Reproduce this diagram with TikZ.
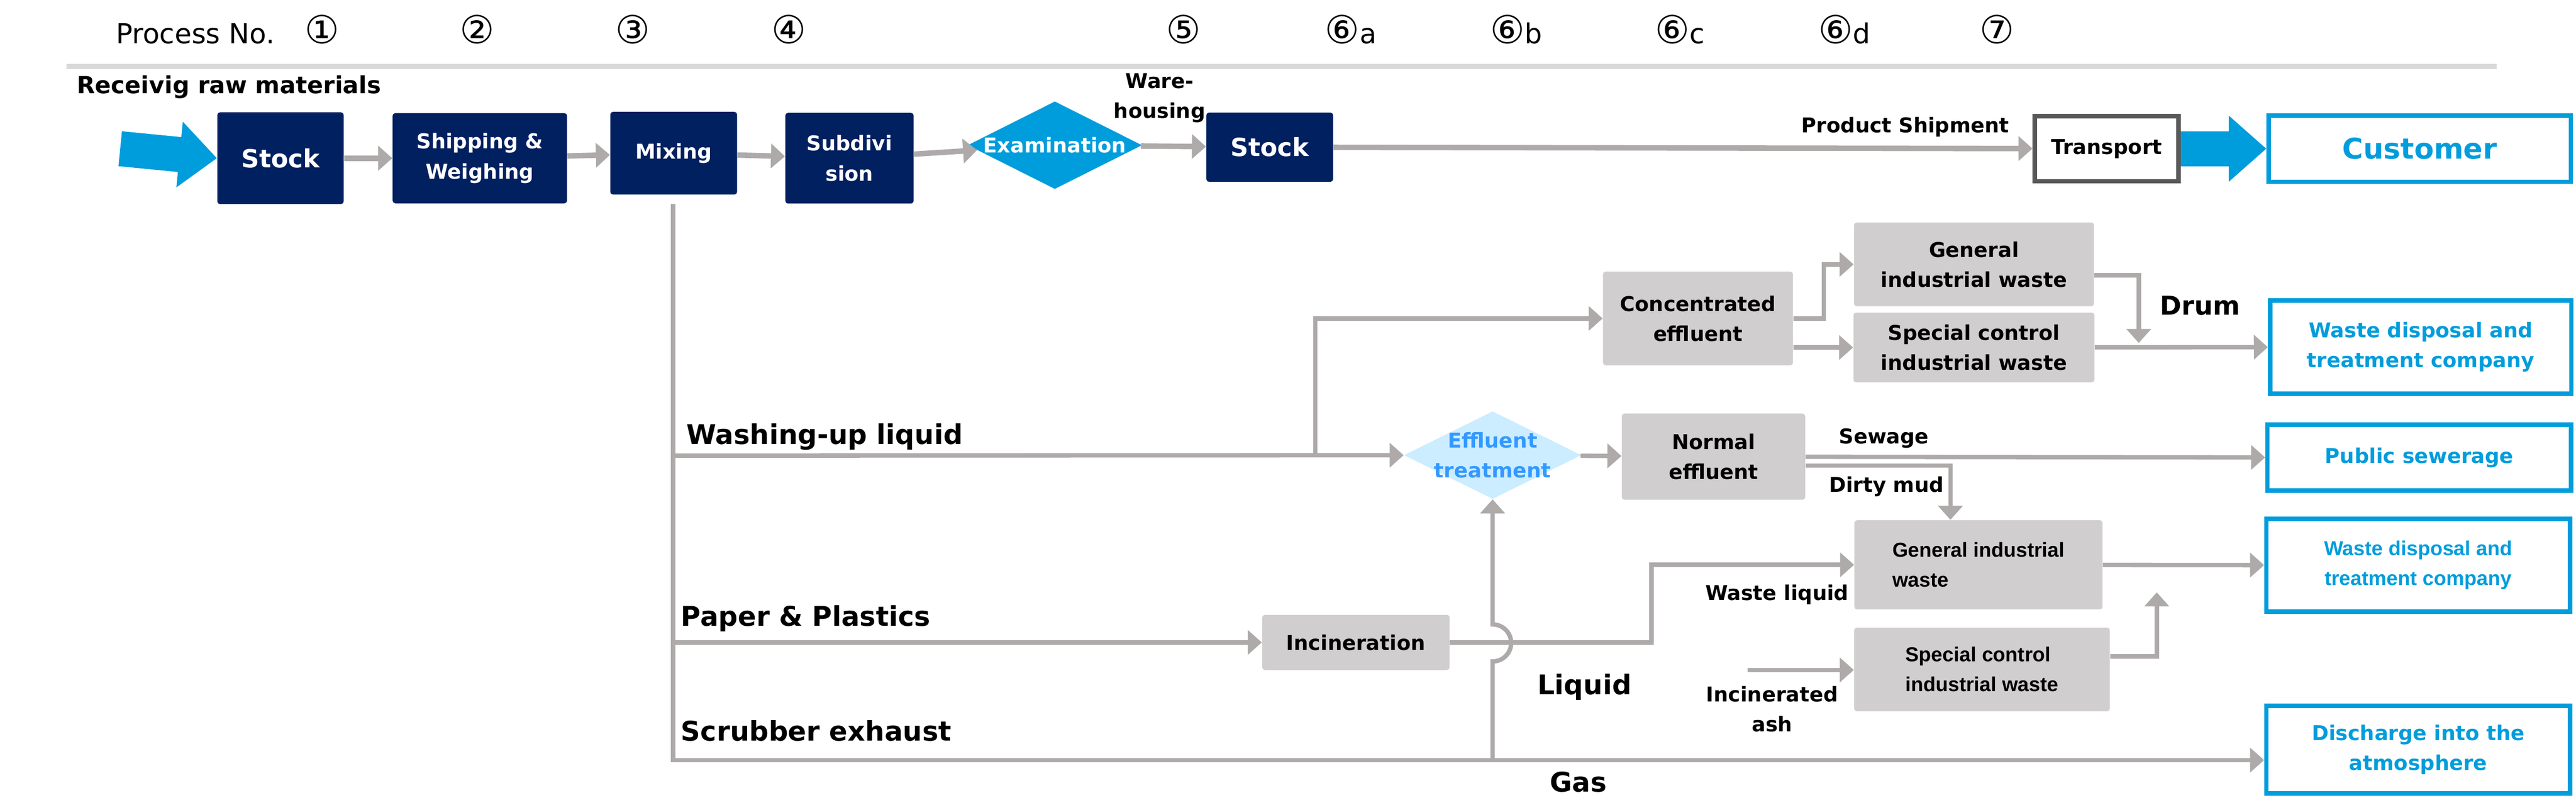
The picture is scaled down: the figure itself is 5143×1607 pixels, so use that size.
\documentclass[tikz,border=0pt]{standalone}
\usepackage{fontspec}
\setmainfont{DejaVu Sans}
\newfontfamily\arialfont{Liberation Sans}
\usetikzlibrary{positioning,shapes.geometric,arrows.meta}

\definecolor{navy}{HTML}{002060}
\definecolor{flowgray}{HTML}{AEAAAA}
\definecolor{boxgray}{HTML}{D0CECE}
\definecolor{bargray}{HTML}{D9D9D9}
\definecolor{skyblue}{HTML}{009DDC}
\definecolor{paleblue}{HTML}{CCECFF}
\definecolor{effblue}{HTML}{3399FF}
\definecolor{framegray}{HTML}{595959}

\newcommand{\boxtxt}{\bfseries\fontsize{11.6}{17}\selectfont}
\newcommand{\bigtxt}{\bfseries\fontsize{15.4}{20}\selectfont}
\newcommand{\arialtxt}{\arialfont\bfseries\fontsize{11.5}{17}\selectfont}
\newcommand{\numtxt}{\fontsize{15.6}{18}\selectfont}

\tikzset{
  navybox/.style={rectangle, rounded corners=1.5pt, fill=navy, text=white, font=\boxtxt, align=center, inner sep=0pt},
  graybox/.style={rectangle, rounded corners=1.5pt, fill=boxgray, font=\boxtxt, align=center, inner sep=0pt},
  outbox/.style={rectangle, draw=skyblue, line width=2.56pt, fill=white, text=skyblue, font=\boxtxt, align=center, inner sep=0pt},
  procno/.style={font=\fontsize{22}{24}\selectfont, anchor=base, inner sep=0pt},
  lbl/.style={font=\boxtxt, align=center, inner sep=0pt},
  biglbl/.style={font=\bigtxt, anchor=base west, inner sep=0pt},
  flow/.style={draw=flowgray, line width=2.5pt, -{Triangle[length=0.28cm,width=0.48cm]}},
  topflow/.style={flow, line width=3.1pt},
  bigflow/.style={draw=skyblue, line width=0.7cm, -{Triangle[length=0.75cm,width=1.27cm]}}
}

\begin{document}
\begin{tikzpicture}[x=0.01cm, y=-0.01cm]
  \useasboundingbox (0,0) rectangle (5143,1607);

  % Process numbers
  \node[procno, font=\numtxt] (pno) at (390,87) {Process No.};
  \node[procno] (p1) at (643,87) {①};
  \node[procno] (p2) at (953,87) {②};
  \node[procno] (p3) at (1263,87) {③};
  \node[procno] (p4) at (1575,87) {④};
  \node[procno] (p5) at (2363,87) {⑤};
  \node[procno] (p6a) at (2697,87) {⑥{\numtxt a}};
  \node[procno] (p6b) at (3027,87) {⑥{\numtxt b}};
  \node[procno] (p6c) at (3354,87) {⑥{\numtxt c}};
  \node[procno] (p6d) at (3682,87) {⑥{\numtxt d}};
  \node[procno] (p7) at (3987,87) {⑦};
  \draw[bargray, line width=2.85pt] (133,133) -- (4985,133);

  % Nodes
  \node[lbl, font=\bfseries\fontsize{13.4}{17}\selectfont, anchor=base west] (raw) at (153,187) {Receivig raw materials};
  \node[navybox, minimum width=2.52cm, minimum height=1.83cm, font=\bfseries\fontsize{14.2}{17}\selectfont] (stockA) at (560,316) {Stock};
  \node[navybox, minimum width=3.48cm, minimum height=1.80cm] (ship) at (958,316) {Shipping \&\\Weighing};
  \node[navybox, minimum width=2.53cm, minimum height=1.65cm] (mix) at (1345,306) {Mixing};
  \node[navybox, minimum width=2.56cm, minimum height=1.81cm] (subdiv) at (1696,316) {Subdivi\\sion};
  \node[diamond, fill=skyblue, inner sep=0pt, minimum width=3.48cm, minimum height=1.75cm,
        label={[text=white, font=\boxtxt]center:Examination}] (exam) at (2106,290) {};
  \node[lbl] (ware) at (2315,196) {Ware-\\housing};
  \node[navybox, minimum width=2.53cm, minimum height=1.38cm, font=\bfseries\fontsize{14.2}{17}\selectfont] (stockB) at (2535,294) {Stock};
  \node[lbl, anchor=base] (shipment) at (3804,265) {Product Shipment};
  \node[rectangle, draw=framegray, line width=2.56pt, fill=white, font=\boxtxt, inner sep=0pt,
        minimum width=2.87cm, minimum height=1.30cm] (transport) at (4206,297) {Transport};
  \node[outbox, minimum width=6.03cm, minimum height=1.32cm, font=\bfseries\fontsize{16.2}{20}\selectfont] (customer) at (4831,297) {Customer};

  \node[graybox, minimum width=3.79cm, minimum height=1.87cm] (conc) at (3390,636) {Concentrated\\effluent};
  \node[graybox, minimum width=4.79cm, minimum height=1.67cm] (genA) at (3941,528) {General\\industrial waste};
  \node[graybox, minimum width=4.81cm, minimum height=1.39cm] (specA) at (3941,694) {Special control\\industrial waste};
  \node[outbox, minimum width=6.01cm, minimum height=1.86cm] (wasteA) at (4833,693) {Waste disposal and\\treatment company};
  \node[lbl, font=\bfseries\fontsize{14.8}{18}\selectfont, anchor=base] (drumlbl) at (4392,629) {Drum};

  \node[diamond, fill=paleblue, inner sep=0pt, minimum width=3.54cm, minimum height=1.75cm,
        label={[text=effblue, font=\boxtxt, align=center]center:Effluent\\treatment}] (efflu) at (2980,909) {};
  \node[graybox, minimum width=3.66cm, minimum height=1.72cm] (normal) at (3421,912) {Normal\\effluent};
  \node[outbox, minimum width=6.06cm, minimum height=1.31cm] (sewer) at (4830,914) {Public sewerage};
  \node[lbl, anchor=base west] (sewage) at (3671,886) {Sewage};
  \node[lbl, anchor=base west] (mudlbl) at (3651,983) {Dirty mud};

  \node[graybox, minimum width=3.74cm, minimum height=1.10cm] (incin) at (2707,1283) {Incineration};
  \node[graybox, font=\arialtxt, align=left, minimum width=4.95cm, minimum height=1.78cm] (genB) at (3950,1128) {General industrial\\waste};
  \node[graybox, font=\arialtxt, align=left, minimum width=5.10cm, minimum height=1.67cm] (specB) at (3957,1337) {Special control\\industrial waste};
  \node[outbox, font=\arialtxt, minimum width=6.06cm, minimum height=1.85cm] (wasteB) at (4828,1129) {Waste disposal and\\treatment company};
  \node[outbox, minimum width=6.06cm, minimum height=1.75cm] (disch) at (4828,1497) {Discharge into the\\atmosphere};
  \node[lbl, anchor=base west] (liqlbl) at (3404,1199) {Waste liquid};
  \node[lbl] (ashlbl) at (3538,1416) {Incinerated\\ash};

  \node[biglbl] (washlbl) at (1370,887) {Washing-up liquid};
  \node[biglbl] (paperlbl) at (1359,1250) {Paper \& Plastics};
  \node[biglbl] (scrublbl) at (1359,1480) {Scrubber exhaust};
  \node[biglbl] (liquid) at (3069,1387) {Liquid};
  \node[biglbl] (gaslbl) at (3094,1581) {Gas};

  \coordinate (rawin) at (240,297);
  \coordinate (mixout) at (1344,407);
  \coordinate (wash) at (1344,910);
  \coordinate (split) at (2626,910);
  \coordinate (paper) at (1344,1283);
  \coordinate (gas) at (1344,1518);
  \coordinate (liqturn) at (3297,1283);
  \coordinate (concturn) at (3641,636);
  \coordinate (drum) at (4270,685);
  \coordinate (mud) at (3894,930);
  \coordinate (ash) at (3489,1338);
  \coordinate (specup) at (4306,1183);

  % Arrows
  \draw[bigflow] (rawin) -- (stockA.west);
  \draw[topflow] (stockA) -- (ship);
  \draw[topflow] (ship) -- (mix);
  \draw[topflow] (mix) -- (subdiv);
  \draw[topflow] (subdiv) -- (exam);
  \draw[topflow] (exam) -- (stockB);
  \draw[topflow] (stockB) -- (transport);
  \draw[bigflow] (transport.east) -- (customer.west);

  \draw[flow] (mixout) |- (disch.west |- gas);
  \draw[flow] (wash) -- (efflu);
  \draw[flow] (split) |- (conc);
  \draw[flow] (paper) -- (incin);
  \draw[flow] (incin) -- (liqturn) |- (genB);
  \draw[flow] (efflu.south |- gas) -- (2980,1321) arc[start angle=90, end angle=-90, radius=37] -- (efflu.south);

  \draw[flow] (conc.east) -- (concturn) |- (genA);
  \draw[flow] (conc.east |- specA) -- (specA);
  \draw[flow] ([yshift=-0.22cm]genA.east) -| (drum);
  \draw[flow] (specA) -- (wasteA);

  \draw[flow] (efflu) -- (normal);
  \draw[flow] (normal) -- (sewer);
  \draw[flow] (normal.east |- mud) -- (mud) -- (mud |- genB.north);
  \draw[flow] (ash) -- (ash -| specB.west);
  \draw[flow] ([yshift=0.26cm]specB.east) -| (specup);
  \draw[flow] (genB) -- (wasteB);

\end{tikzpicture}
\end{document}
